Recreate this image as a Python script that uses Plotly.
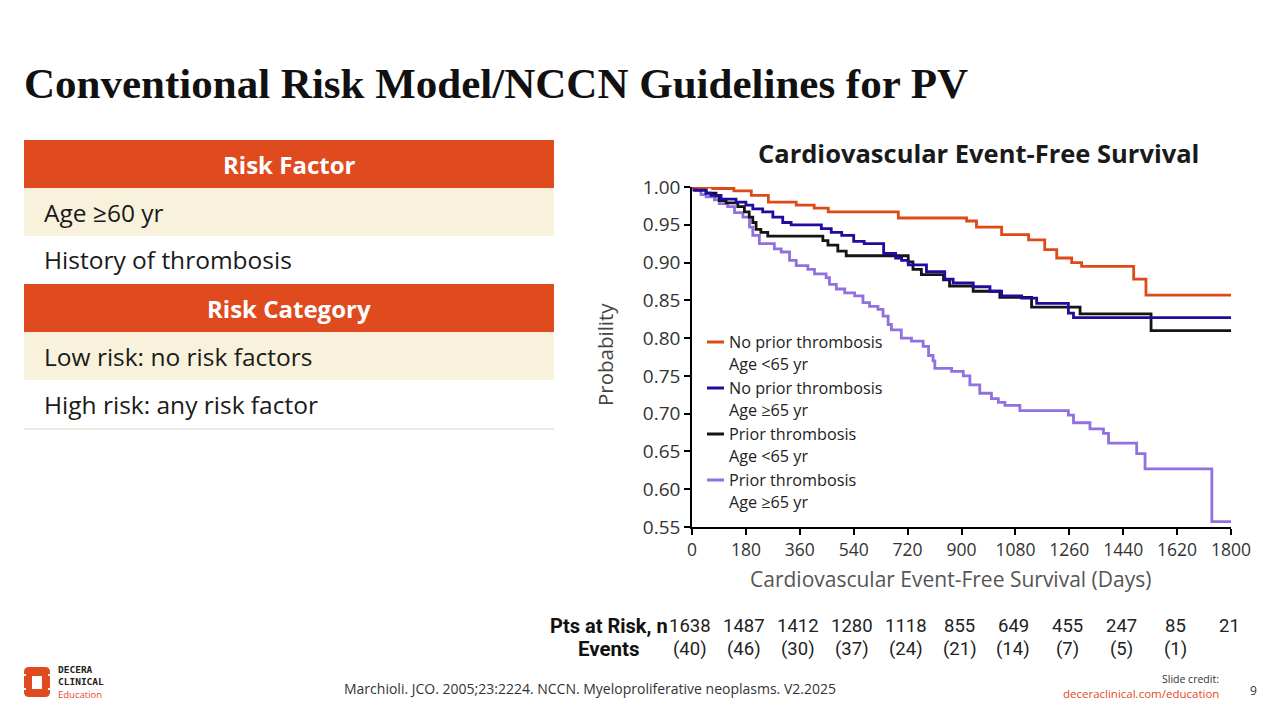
import plotly.graph_objects as go

# ---------------- data ----------------
slide_title = "Conventional Risk Model/NCCN Guidelines for PV"
chart_title = "Cardiovascular Event-Free Survival"
x_title = "Cardiovascular Event-Free Survival (Days)"
y_title = "Probability"

table_header_1 = "Risk Factor"
table_rows_1 = ["Age ≥60 yr", "History of thrombosis"]
table_header_2 = "Risk Category"
table_rows_2 = ["Low risk: no risk factors", "High risk: any risk factor"]

series_line1 = ["No prior thrombosis", "No prior thrombosis", "Prior thrombosis",
                "Prior thrombosis"]
series_line2 = ["Age &lt;65 yr", "Age ≥65 yr", "Age &lt;65 yr", "Age ≥65 yr"]
series_colors = ["#DD4A17", "#1E0D9C", "#151515", "#9370E0"]

t_no_prior_young = [0, 69, 140, 198, 255, 348, 408, 455, 689, 917, 950, 1034, 1124, 1178,
                    1218, 1268, 1301, 1475, 1516, 1800]
s_no_prior_young = [1.0, 0.998, 0.995, 0.989, 0.980, 0.976, 0.972, 0.967, 0.959, 0.955,
                    0.947, 0.937, 0.930, 0.917, 0.906, 0.900, 0.895, 0.878, 0.857, 0.857]

t_no_prior_old = [0, 8, 47, 63, 97, 147, 180, 203, 236, 270, 303, 331, 432, 465, 500, 540,
                  575, 640, 680, 700, 722, 783, 844, 872, 939, 995, 1034, 1101, 1151, 1257,
                  1274, 1800]
s_no_prior_old = [1.0, 0.996, 0.992, 0.989, 0.984, 0.980, 0.976, 0.971, 0.967, 0.960,
                  0.953, 0.950, 0.945, 0.940, 0.936, 0.928, 0.925, 0.912, 0.906, 0.903,
                  0.897, 0.888, 0.878, 0.873, 0.868, 0.862, 0.856, 0.853, 0.846, 0.833,
                  0.827, 0.827]

t_prior_young = [0, 13, 47, 80, 91, 114, 153, 175, 191, 203, 214, 230, 253, 437, 454, 487,
                 515, 722, 738, 766, 840, 860, 939, 1028, 1134, 1296, 1533, 1800]
s_prior_young = [1.0, 0.996, 0.992, 0.988, 0.982, 0.979, 0.974, 0.967, 0.960, 0.953,
                 0.944, 0.940, 0.935, 0.929, 0.923, 0.915, 0.909, 0.901, 0.891, 0.884,
                 0.877, 0.869, 0.862, 0.854, 0.841, 0.832, 0.810, 0.810]

t_prior_old = [0, 5, 30, 47, 75, 91, 119, 142, 170, 192, 203, 225, 275, 298, 326, 348, 387,
               409, 448, 459, 482, 510, 543, 571, 593, 621, 638, 655, 666, 699, 733, 772,
               790, 805, 811, 867, 906, 928, 961, 1000, 1023, 1045, 1095, 1257, 1274, 1329,
               1374, 1391, 1485, 1513, 1736, 1800]
s_prior_old = [1.0, 0.996, 0.990, 0.987, 0.983, 0.978, 0.974, 0.966, 0.960, 0.947, 0.936,
               0.925, 0.918, 0.914, 0.903, 0.896, 0.891, 0.885, 0.880, 0.871, 0.865, 0.860,
               0.856, 0.847, 0.842, 0.838, 0.829, 0.818, 0.811, 0.800, 0.796, 0.789, 0.777,
               0.770, 0.760, 0.756, 0.750, 0.738, 0.727, 0.720, 0.715, 0.711, 0.704, 0.698,
               0.688, 0.680, 0.674, 0.661, 0.647, 0.627, 0.557, 0.557]

x_ticks = [0, 180, 360, 540, 720, 900, 1080, 1260, 1440, 1620, 1800]
y_ticks = [0.55, 0.60, 0.65, 0.70, 0.75, 0.80, 0.85, 0.90, 0.95, 1.00]
at_risk = [1638, 1487, 1412, 1280, 1118, 855, 649, 455, 247, 85, 21]
events = [40, 46, 30, 37, 24, 21, 14, 7, 5, 1, None]

citation = "Marchioli. JCO. 2005;23:2224. NCCN. Myeloproliferative neoplasms. V2.2025"

# ---------------- helpers ----------------
W, H = 1280, 720
OFF = 8  # the page body adds an 8px margin; compensate so the view matches
FONT = "Open Sans"
ORANGE = "#DF4A1F"
CREAM = "#F8F2DC"


def px(x):
    return (x - OFF) / W


def py(y):
    return 1 - (y - OFF) / H


fig = go.Figure()

series = [
    (t_no_prior_young, s_no_prior_young),
    (t_no_prior_old, s_no_prior_old),
    (t_prior_young, s_prior_young),
    (t_prior_old, s_prior_old),
]
for idx in [3, 2, 1, 0]:
    t, s = series[idx]
    fig.add_trace(go.Scatter(
        x=t, y=s, mode="lines", line_shape="hv",
        line=dict(color=series_colors[idx], width=2.8),
        name=series_line1[idx] + " " + series_line2[idx], showlegend=False,
        cliponaxis=False, hoverinfo="skip",
    ))

shapes = []
annotations = []

# slide title
annotations.append(dict(
    x=px(22), y=py(84), xref="paper", yref="paper", xanchor="left", yanchor="middle",
    text="<b>%s</b>" % slide_title, showarrow=False,
    font=dict(family="Liberation Serif", size=43, color="#111111")))

# table
tx0, tx1 = 24, 554
row_h = 48
y0 = 140
blocks = [(table_header_1, table_rows_1), (table_header_2, table_rows_2)]
yy = y0
for header, rows in blocks:
    shapes.append(dict(type="rect", xref="paper", yref="paper", x0=px(tx0), x1=px(tx1),
                       y0=py(yy + row_h), y1=py(yy), fillcolor=ORANGE, line=dict(width=0),
                       layer="below"))
    annotations.append(dict(
        x=px((tx0 + tx1) / 2), y=py(yy + row_h / 2), xref="paper", yref="paper",
        xanchor="center", yanchor="middle", text="<b>%s</b>" % header, showarrow=False,
        font=dict(family=FONT, size=24, color="white")))
    yy += row_h
    for i, r in enumerate(rows):
        if i == 0:
            shapes.append(dict(type="rect", xref="paper", yref="paper", x0=px(tx0),
                               x1=px(tx1), y0=py(yy + row_h), y1=py(yy), fillcolor=CREAM,
                               line=dict(width=0), layer="below"))
        annotations.append(dict(
            x=px(42), y=py(yy + row_h / 2), xref="paper", yref="paper",
            xanchor="left", yanchor="middle", text=r, showarrow=False,
            font=dict(family=FONT, size=24.5, color="#1a1a1a")))
        yy += row_h
shapes.append(dict(type="line", xref="paper", yref="paper", x0=px(tx0), x1=px(tx1),
                   y0=py(yy + 1), y1=py(yy + 1), line=dict(color="#E6E3D6", width=1.5)))

# chart title and axis titles
annotations.append(dict(
    x=px(978), y=py(153), xref="paper", yref="paper", xanchor="center", yanchor="middle",
    text="<b>%s</b>" % chart_title, showarrow=False,
    font=dict(family=FONT, size=25.5, color="#1a1a1a")))
annotations.append(dict(
    x=px(950), y=py(579), xref="paper", yref="paper", xanchor="center", yanchor="middle",
    text=x_title, showarrow=False, font=dict(family=FONT, size=21, color="#555555")))
annotations.append(dict(
    x=px(605), y=py(355), xref="paper", yref="paper", xanchor="center", yanchor="middle",
    text=y_title, textangle=-90, showarrow=False,
    font=dict(family=FONT, size=20.5, color="#444444")))

# legend (manual)
leg_y = [342, 388, 434, 480]
for i in range(4):
    shapes.append(dict(type="line", xref="paper", yref="paper", x0=px(707), x1=px(724),
                       y0=py(leg_y[i]), y1=py(leg_y[i]),
                       line=dict(color=series_colors[i], width=3)))
    annotations.append(dict(
        x=px(727.5), y=py(leg_y[i]), xref="paper", yref="paper", xanchor="left",
        yanchor="middle", text=series_line1[i], showarrow=False, align="left",
        borderpad=0, font=dict(family=FONT, size=16.2, color="#222222")))
    annotations.append(dict(
        x=px(727.5), y=py(leg_y[i] + 21.5), xref="paper", yref="paper", xanchor="left",
        yanchor="middle", text=series_line2[i], showarrow=False, align="left",
        borderpad=0, font=dict(family=FONT, size=16.2, color="#222222")))

# patients at risk
annotations.append(dict(
    x=px(609), y=py(626), xref="paper", yref="paper", xanchor="center", yanchor="middle",
    text="<b>Pts at Risk, n</b>", showarrow=False,
    font=dict(family="Roboto", size=20, color="#111111")))
annotations.append(dict(
    x=px(609), y=py(649), xref="paper", yref="paper", xanchor="center", yanchor="middle",
    text="<b>Events</b>", showarrow=False,
    font=dict(family="Roboto", size=20.5, color="#111111")))
for xv, n, e in zip(x_ticks, at_risk, events):
    annotations.append(dict(
        x=xv, y=py(626), xref="x", yref="paper", xanchor="center", yanchor="middle",
        text=str(n), showarrow=False, xshift=-2,
        font=dict(family="Roboto", size=18.5, color="#222222")))
    if e is not None:
        annotations.append(dict(
            x=xv, y=py(649), xref="x", yref="paper", xanchor="center", yanchor="middle",
            text="(%d)" % e, showarrow=False, xshift=-2,
            font=dict(family="Roboto", size=18.5, color="#222222")))

# footer
annotations.append(dict(
    x=px(590), y=py(688), xref="paper", yref="paper", xanchor="center", yanchor="middle",
    text=citation, showarrow=False, font=dict(family=FONT, size=14, color="#333333")))
annotations.append(dict(
    x=px(1221), y=py(679), xref="paper", yref="paper", xanchor="right", yanchor="middle",
    text="Slide credit:", showarrow=False, font=dict(family=FONT, size=10.5, color="#333333")))
annotations.append(dict(
    x=px(1221), y=py(693), xref="paper", yref="paper", xanchor="right", yanchor="middle",
    text="deceraclinical.com/education", showarrow=False,
    font=dict(family=FONT, size=11.5, color=ORANGE)))
annotations.append(dict(
    x=px(1253), y=py(690), xref="paper", yref="paper", xanchor="center", yanchor="middle",
    text="9", showarrow=False, font=dict(family=FONT, size=12, color="#333333")))


# logo
def rounded_rect(x0, y0, x1, y1, r):
    X0, X1 = px(x0), px(x1)
    Y0, Y1 = py(y0), py(y1)
    rx, ry = r / W, r / H
    return ("M %f,%f L %f,%f Q %f,%f %f,%f L %f,%f Q %f,%f %f,%f L %f,%f Q %f,%f %f,%f "
            "L %f,%f Q %f,%f %f,%f Z" % (
                X0 + rx, Y0, X1 - rx, Y0, X1, Y0, X1, Y0 - ry, X1, Y1 + ry, X1, Y1,
                X1 - rx, Y1, X0 + rx, Y1, X0, Y1, X0, Y1 + ry, X0, Y0 - ry, X0, Y0,
                X0 + rx, Y0))


shapes.append(dict(type="path", xref="paper", yref="paper",
                   path=rounded_rect(24, 667, 50, 697, 5), fillcolor=ORANGE,
                   line=dict(width=0)))
shapes.append(dict(type="rect", xref="paper", yref="paper", x0=px(32), x1=px(42),
                   y0=py(689), y1=py(676), fillcolor="white", line=dict(width=0)))
for gx, gy0, gy1 in [(24, 674, 676), (48, 674, 676), (24, 688, 690), (48, 688, 690)]:
    shapes.append(dict(type="rect", xref="paper", yref="paper", x0=px(gx), x1=px(gx + 2),
                       y0=py(gy1), y1=py(gy0), fillcolor="white", line=dict(width=0)))
annotations.append(dict(
    x=px(56), y=py(682), xref="paper", yref="paper", xanchor="left", yanchor="middle",
    text=("<b>DECERA<br>CLINICAL</b><br>"
          "<span style='color:%s;font-family:Open Sans'>Education</span>" % ORANGE),
    showarrow=False, align="left",
    font=dict(family="DejaVu Sans Mono", size=9.5, color="#222222")))

fig.update_layout(
    width=W, height=H,
    margin=dict(l=0, r=0, t=0, b=0, pad=0, autoexpand=False),
    paper_bgcolor="white", plot_bgcolor="white",
    shapes=shapes, annotations=annotations, showlegend=False,
    xaxis=dict(domain=[px(692), px(1231)], range=[0, 1800], tickvals=x_ticks,
               showline=True, linecolor="black", linewidth=1.5, ticks="outside",
               ticklen=6, tickwidth=1.5, tickcolor="black", showgrid=False, zeroline=False,
               automargin=False,
               tickfont=dict(family=FONT, size=17.5, color="#333333"), fixedrange=True),
    yaxis=dict(domain=[py(527), py(187)], range=[0.55, 1.0], tickvals=y_ticks,
               tickformat=".2f", showline=True, linecolor="black", linewidth=1.5,
               ticks="outside", ticklen=6, tickwidth=1.5, tickcolor="black",
               showgrid=False, zeroline=False, automargin=False,
               tickfont=dict(family=FONT, size=19, color="#333333"), fixedrange=True),
)

fig.write_html("out.html")
